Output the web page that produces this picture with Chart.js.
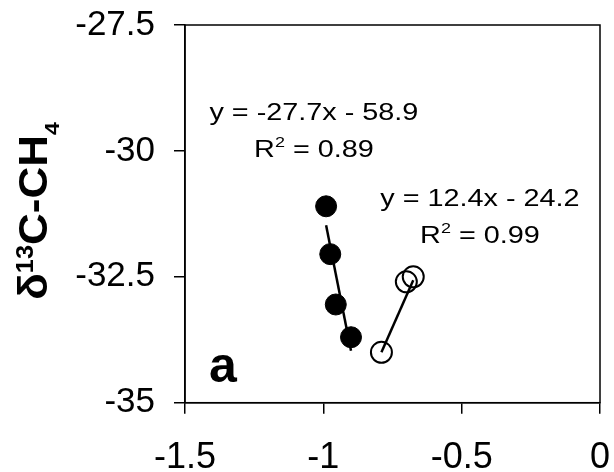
<!DOCTYPE html>
<html><head><meta charset="utf-8">
<script src="https://cdn.jsdelivr.net/npm/chart.js@4"></script>
<style>html,body{margin:0;padding:0;background:#fff}canvas{display:block}</style>
</head><body>
<canvas id="c" width="614" height="472"></canvas>
<script>
// ---- data ----
const filledX = [-0.99, -0.975, -0.955, -0.90];
const filledY = [-31.1, -32.05, -33.05, -33.7];
const openX = [-0.79, -0.70, -0.675];
const openY = [-34.0, -32.6, -32.5];
const trendSlopes = [-27.7, 12.4];
const trendIntercepts = [-58.9, -24.2];
const equationLabels = ['y = -27.7x - 58.9', 'y = 12.4x - 24.2'];
const r2Labels = ['0.89', '0.99'];
const xTicks = [-1.5, -1, -0.5, 0];
const yTicks = [-35, -32.5, -30, -27.5];
const panelLabel = 'a';

// ---- layout / style (not data) ----
const annotAnchors = [{x: -1.034, y: -29.39}, {x: -0.434, y: -31.10}];
const FONT = '"Liberation Sans", Arial, Helvetica, sans-serif';

function trend(xs, i) {
  const lo = Math.min(...xs), hi = Math.max(...xs);
  return [lo, hi].map(x => ({x, y: trendSlopes[i] * x + trendIntercepts[i]}));
}
const pts = (xs, ys) => xs.map((x, i) => ({x, y: ys[i]}));

function drawParts(ctx, parts, x0, by, sx) {
  parts.forEach(p => { ctx.font = p.font; p.w = ctx.measureText(p.t).width; });
  ctx.save();
  ctx.translate(x0, by);
  ctx.scale(sx, 1);
  let x = 0;
  parts.forEach(p => { ctx.font = p.font; ctx.fillText(p.t, x, p.dy || 0); x += p.w; });
  ctx.restore();
}
function partsWidth(ctx, parts, sx) {
  let w = 0;
  parts.forEach(p => { ctx.font = p.font; w += ctx.measureText(p.t).width; });
  return w * sx;
}

const decor = {
  id: 'decor',
  afterDraw(chart) {
    const ctx = chart.ctx, a = chart.chartArea;
    const xs = chart.scales.x, ys = chart.scales.y;
    ctx.save();
    ctx.strokeStyle = '#000'; ctx.lineWidth = 1.5;
    ctx.strokeRect(a.left, a.top, a.right - a.left, a.bottom - a.top);
    ctx.fillStyle = '#000';
    ctx.textBaseline = 'alphabetic';
    ctx.textAlign = 'left';
    const SX = 1.2;
    annotAnchors.forEach((an, i) => {
      const cx = xs.getPixelForValue(an.x), by = ys.getPixelForValue(an.y);
      const l1 = [{t: equationLabels[i], font: '24px ' + FONT}];
      const w1 = partsWidth(ctx, l1, SX);
      drawParts(ctx, l1, cx - w1 / 2, by, SX);
      const l2 = [{t: 'R', font: '24px ' + FONT},
                  {t: '2', font: '15px ' + FONT, dy: -10},
                  {t: ' = ' + r2Labels[i], font: '24px ' + FONT}];
      const w2 = partsWidth(ctx, l2, SX);
      drawParts(ctx, l2, cx - w2 / 2, by + 36.7, SX);
    });
    ctx.font = 'bold 50px ' + FONT;
    ctx.fillText(panelLabel, a.left + 24, a.bottom - 21);
    const TS = 1.1;
    const tp = [{t: '\u03B4', font: 'bold 40px ' + FONT},
                {t: '13', font: 'bold 23px ' + FONT, dy: -14},
                {t: 'C-CH', font: 'bold 40px ' + FONT},
                {t: '4', font: 'bold 21px ' + FONT, dy: 12}];
    const tw = partsWidth(ctx, tp, TS);
    ctx.save();
    ctx.translate(47, 211);
    ctx.rotate(-Math.PI / 2);
    drawParts(ctx, tp, -tw / 2, 0, TS);
    ctx.restore();
    ctx.restore();
  }
};

const axisCommon = {
  type: 'linear',
  grid: {drawOnChartArea: false, drawTicks: true, tickLength: 11, color: '#000', lineWidth: 1.5},
  border: {display: true, color: '#000', width: 1.5},
};
function noPad(s) { s.paddingTop = 0; s.paddingBottom = 0; s.paddingLeft = 0; s.paddingRight = 0; }

new Chart(document.getElementById('c'), {
  type: 'scatter',
  data: {
    datasets: [
      {data: trend(filledX, 0), showLine: true, borderColor: '#000', borderWidth: 2.5, pointRadius: 0, fill: false},
      {data: trend(openX, 1), showLine: true, borderColor: '#000', borderWidth: 2.5, pointRadius: 0, fill: false},
      {data: pts(filledX, filledY), pointRadius: 10.5, pointBackgroundColor: '#000', pointBorderColor: '#000', pointBorderWidth: 1},
      {data: pts(openX, openY), pointRadius: 10.5, pointBackgroundColor: 'rgba(0,0,0,0)', pointBorderColor: '#000', pointBorderWidth: 2}
    ]
  },
  options: {
    responsive: false, animation: false, devicePixelRatio: 1,
    layout: {padding: {top: 25, right: 14, left: 0, bottom: 0}},
    plugins: {legend: {display: false}, tooltip: {enabled: false}},
    scales: {
      x: Object.assign({}, axisCommon, {
        min: -1.5, max: 0,
        afterBuildTicks: s => { s.ticks = xTicks.map(v => ({value: v})); },
        afterFit: s => { s.height = 69.3; noPad(s); },
        ticks: {color: '#000', padding: 23, font: {family: FONT, size: 36}, callback: v => String(v)}
      }),
      y: Object.assign({}, axisCommon, {
        min: -35, max: -27.5,
        afterBuildTicks: s => { s.ticks = yTicks.map(v => ({value: v})); },
        afterFit: s => { s.width = 185; noPad(s); },
        ticks: {color: '#000', padding: 19, font: {family: FONT, size: 35}, callback: v => String(v)}
      })
    }
  },
  plugins: [decor]
});
</script>
</body></html>
